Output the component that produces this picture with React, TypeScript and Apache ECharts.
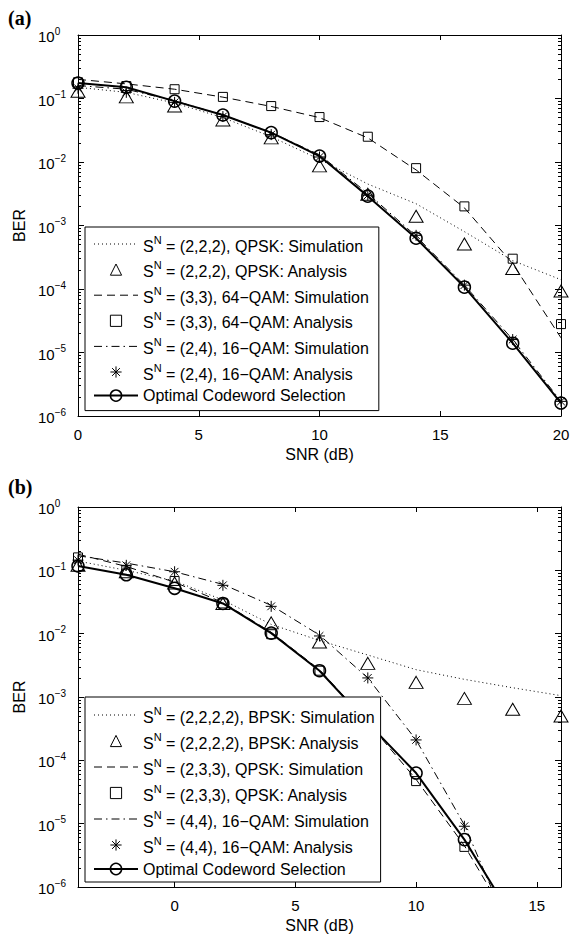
import React, { useEffect, useRef } from 'react';
import * as echarts from 'echarts';

// ---------- Panel (a) ----------
const snrA = [0, 2, 4, 6, 8, 10, 12, 14, 16, 18, 20];
const qpskSimA = [0.15, 0.125, 0.085, 0.05, 0.025, 0.011, 0.0045, 0.0022, 0.0008, 0.00028, 0.00014];
const qpskAnaA = [0.13, 0.106, 0.076, 0.046, 0.024, 0.0087, 0.0031, 0.0014, 0.00051, 0.00021, 0.000093];
const qam64SimA = [0.2, 0.17, 0.14, 0.105, 0.075, 0.05, 0.024, 0.0075, 0.0019, 0.00025, 0.000017];
const qam64AnaA = [0.18, 0.157, 0.14, 0.106, 0.076, 0.051, 0.025, 0.008, 0.002, 0.0003, 0.000028];
const qam16SimA = [0.16, 0.14, 0.092, 0.055, 0.029, 0.013, 0.0032, 0.00068, 0.000115, 0.000016, 0.0000017];
const qam16AnaA = [0.145, 0.125, 0.087, 0.052, 0.027, 0.012, 0.003, 0.0007, 0.000115, 0.000016, 0.0000017];
const optimalA = [0.175, 0.15, 0.091, 0.055, 0.029, 0.0124, 0.0029, 0.00063, 0.000107, 0.000014, 0.0000016];

// ---------- Panel (b) ----------
const snrB = [-4, -2, 0, 2, 4, 6, 8, 10, 12, 14, 16];
const bpskSimB = [0.14, 0.1, 0.068, 0.034, 0.014, 0.0078, 0.0046, 0.0027, 0.0019, 0.0014, 0.00105];
const bpskAnaB = [0.12, 0.095, 0.063, 0.03, 0.0148, 0.0074, 0.0034, 0.0017, 0.00095, 0.00064, 0.0005];
const qpskSimB = [0.18, 0.115, 0.065, 0.031, 0.0105, 0.0027, 0.0004, 0.00005, 0.0000045, 0.00000023, null];
const qpskAnaB = [0.16, 0.1, 0.068, 0.03, 0.0098, 0.0026, 0.0004, 0.000047, 0.0000043, null, null];
const qam16SimB = [0.17, 0.13, 0.095, 0.06, 0.028, 0.0095, 0.002, 0.00021, 0.0000095, 0.00000016, null];
const qam16AnaB = [0.145, 0.12, 0.095, 0.058, 0.027, 0.0092, 0.002, 0.00021, 0.0000091, null, null];
const optimalB = [0.117, 0.085, 0.052, 0.03, 0.0102, 0.0026, 0.00039, 0.000063, 0.0000056, 0.00000032, null];

const namesA = [
  'S^N = (2,2,2), QPSK: Simulation',
  'S^N = (2,2,2), QPSK: Analysis',
  'S^N = (3,3), 64\u2212QAM: Simulation',
  'S^N = (3,3), 64\u2212QAM: Analysis',
  'S^N = (2,4), 16\u2212QAM: Simulation',
  'S^N = (2,4), 16\u2212QAM: Analysis',
  'Optimal Codeword Selection',
];
const namesB = [
  'S^N = (2,2,2,2), BPSK: Simulation',
  'S^N = (2,2,2,2), BPSK: Analysis',
  'S^N = (2,3,3), QPSK: Simulation',
  'S^N = (2,3,3), QPSK: Analysis',
  'S^N = (4,4), 16\u2212QAM: Simulation',
  'S^N = (4,4), 16\u2212QAM: Analysis',
  'Optimal Codeword Selection',
];

const xTicksA = [0, 5, 10, 15, 20];
const xTicksB = [0, 5, 10, 15];

const FONT = "'Liberation Sans', Arial, Helvetica, sans-serif";
const DOT = [1, 3];
const DASH = [8, 5];
const DASHDOT = [8, 4, 1.5, 4];
const ASTERISK = 'path://M5,0L5,10M0,5L10,5M1.5,1.5L8.5,8.5M1.5,8.5L8.5,1.5';

const minorTicks: number[] = [];
for (let e = -6; e < 0; e++) for (let m = 2; m <= 9; m++) minorTicks.push(m * Math.pow(10, e));

function pairs(xs: number[], ys: (number | null)[]) {
  return xs.map((x, i) => [x, ys[i] == null ? null : ys[i]]);
}

function sim(name: string, xs: number[], ys: (number | null)[], dash: number[], g: number) {
  return {
    type: 'line', name, xAxisIndex: g * 2, yAxisIndex: g * 4, data: pairs(xs, ys),
    symbol: 'none', silent: true,
    lineStyle: { color: '#000', width: 1, type: dash },
    itemStyle: { color: 'transparent', borderColor: 'transparent', borderWidth: 0 },
  };
}
function ana(name: string, xs: number[], ys: (number | null)[], symbol: string, size: any, g: number) {
  return {
    type: 'line', name, xAxisIndex: g * 2, yAxisIndex: g * 4, data: pairs(xs, ys),
    symbol, symbolSize: size, showSymbol: true, silent: true,
    lineStyle: { color: '#000', width: 0 },
    itemStyle: { color: 'transparent', borderColor: '#000', borderWidth: 1 },
  };
}
function opt(name: string, xs: number[], ys: (number | null)[], g: number) {
  return {
    type: 'line', name, xAxisIndex: g * 2, yAxisIndex: g * 4, data: pairs(xs, ys),
    symbol: 'circle', symbolSize: 12, showSymbol: true, silent: true,
    lineStyle: { color: '#000', width: 2 },
    itemStyle: { color: 'transparent', borderColor: '#000', borderWidth: 1.5 },
  };
}

function xAxes(g: number, min: number, max: number, ticks: number[]) {
  const common: any = {
    gridIndex: g, type: 'value', min, max,
    splitLine: { show: false },
    axisLine: { show: true, onZero: false, lineStyle: { color: '#000', width: 1 } },
    axisTick: { show: true, inside: true, length: 5, customValues: ticks, lineStyle: { color: '#000' } },
  };
  return [
    {
      ...common, position: 'bottom',
      axisLabel: { show: true, customValues: ticks, color: '#000', fontFamily: FONT, fontSize: 15, margin: 11 },
      name: 'SNR (dB)', nameLocation: 'middle', nameGap: 30,
      nameTextStyle: { color: '#000', fontFamily: FONT, fontSize: 16 },
    },
    { ...common, position: 'top', axisLabel: { show: false } },
  ];
}

function yAxes(g: number) {
  const base: any = {
    gridIndex: g, type: 'log', logBase: 10, min: 1e-6, max: 1, splitNumber: 6,
    splitLine: { show: false },
    axisLine: { show: true, onZero: false, lineStyle: { color: '#000', width: 1 } },
  };
  const hiddenLine = { show: false, onZero: false };
  const minor = { show: true, inside: true, length: 3, customValues: minorTicks, lineStyle: { color: '#000' } };
  const major = { show: true, inside: true, length: 6, lineStyle: { color: '#000' } };
  return [
    {
      ...base, position: 'left', axisTick: major,
      axisLabel: {
        show: true, align: 'left', margin: 40, color: '#000',
        formatter: (v: number) => {
          const e = Math.round(Math.log10(v));
          return '{b|10}{s|' + (e < 0 ? '\u2212' + -e : String(e)) + '}';
        },
        rich: {
          b: { fontSize: 15, fontFamily: FONT, color: '#000', verticalAlign: 'bottom' },
          s: { fontSize: 10, fontFamily: FONT, color: '#000', verticalAlign: 'bottom', padding: [0, 0, 8, 0] },
        },
      },
      name: 'BER', nameLocation: 'middle', nameGap: 48,
      nameTextStyle: { color: '#000', fontFamily: FONT, fontSize: 16 },
    },
    { ...base, position: 'left', axisLine: hiddenLine, axisTick: minor, axisLabel: { show: false } },
    { ...base, position: 'right', axisTick: major, axisLabel: { show: false } },
    { ...base, position: 'right', axisLine: hiddenLine, axisTick: minor, axisLabel: { show: false } },
  ];
}

function legendFor(names: string[], top: number, padding: number[], gap: number) {
  return {
    orient: 'vertical', left: 85, top, itemWidth: 44, itemHeight: 14, itemGap: gap, padding,
    backgroundColor: '#fff', borderColor: '#000', borderWidth: 1, borderRadius: 0,
    selectedMode: false, z: 10, data: names,
    itemStyle: { borderWidth: 'inherit' },
    lineStyle: { width: 'inherit' },
    formatter: (n: string) =>
      n.startsWith('S^N') ? '{t|S}{sup|N}{t|' + n.slice(3) + '}' : '{t|' + n + '}',
    textStyle: {
      color: '#000', fontFamily: FONT, fontSize: 16,
      rich: {
        t: { fontSize: 16, fontFamily: FONT, color: '#000', verticalAlign: 'bottom' },
        sup: { fontSize: 11, fontFamily: FONT, color: '#000', verticalAlign: 'bottom', padding: [0, 0, 9, 0] },
      },
    },
  };
}

export default function App() {
  const ref = useRef<HTMLDivElement>(null);
  useEffect(() => {
    if (!ref.current) return;
    const chart = echarts.init(ref.current, undefined, { renderer: 'svg' });
    const option: any = {
      animation: false,
      backgroundColor: '#fff',
      grid: [
        { left: 78, top: 35, width: 483, height: 381 },
        { left: 78, top: 507, width: 483, height: 380 },
      ],
      xAxis: [...xAxes(0, 0, 20, xTicksA), ...xAxes(1, -4, 16, xTicksB)],
      yAxis: [...yAxes(0), ...yAxes(1)],
      legend: [
        legendFor(namesA, 227, [7, 10, 7, 8], 5.6),
        legendFor(namesB, 697, [8, 6, 5, 8], 6),
      ],
      graphic: [
        { type: 'text', left: 8, top: 8, style: { text: '(a)', font: 'bold 20px "Liberation Serif", serif', fill: '#000' } },
        { type: 'text', left: 8, top: 477, style: { text: '(b)', font: 'bold 20px "Liberation Serif", serif', fill: '#000' } },
      ],
      series: [
        sim(namesA[0], snrA, qpskSimA, DOT, 0),
        ana(namesA[1], snrA, qpskAnaA, 'triangle', [14, 12], 0),
        sim(namesA[2], snrA, qam64SimA, DASH, 0),
        ana(namesA[3], snrA, qam64AnaA, 'rect', 9, 0),
        sim(namesA[4], snrA, qam16SimA, DASHDOT, 0),
        ana(namesA[5], snrA, qam16AnaA, ASTERISK, 11, 0),
        opt(namesA[6], snrA, optimalA, 0),
        sim(namesB[0], snrB, bpskSimB, DOT, 1),
        ana(namesB[1], snrB, bpskAnaB, 'triangle', [14, 12], 1),
        sim(namesB[2], snrB, qpskSimB, DASH, 1),
        ana(namesB[3], snrB, qpskAnaB, 'rect', 9, 1),
        sim(namesB[4], snrB, qam16SimB, DASHDOT, 1),
        ana(namesB[5], snrB, qam16AnaB, ASTERISK, 11, 1),
        opt(namesB[6], snrB, optimalB, 1),
      ],
    };
    chart.setOption(option);
    return () => chart.dispose();
  }, []);
  return <div ref={ref} style={{ position: 'absolute', left: 0, top: 0, width: 573, height: 937 }} />;
}
